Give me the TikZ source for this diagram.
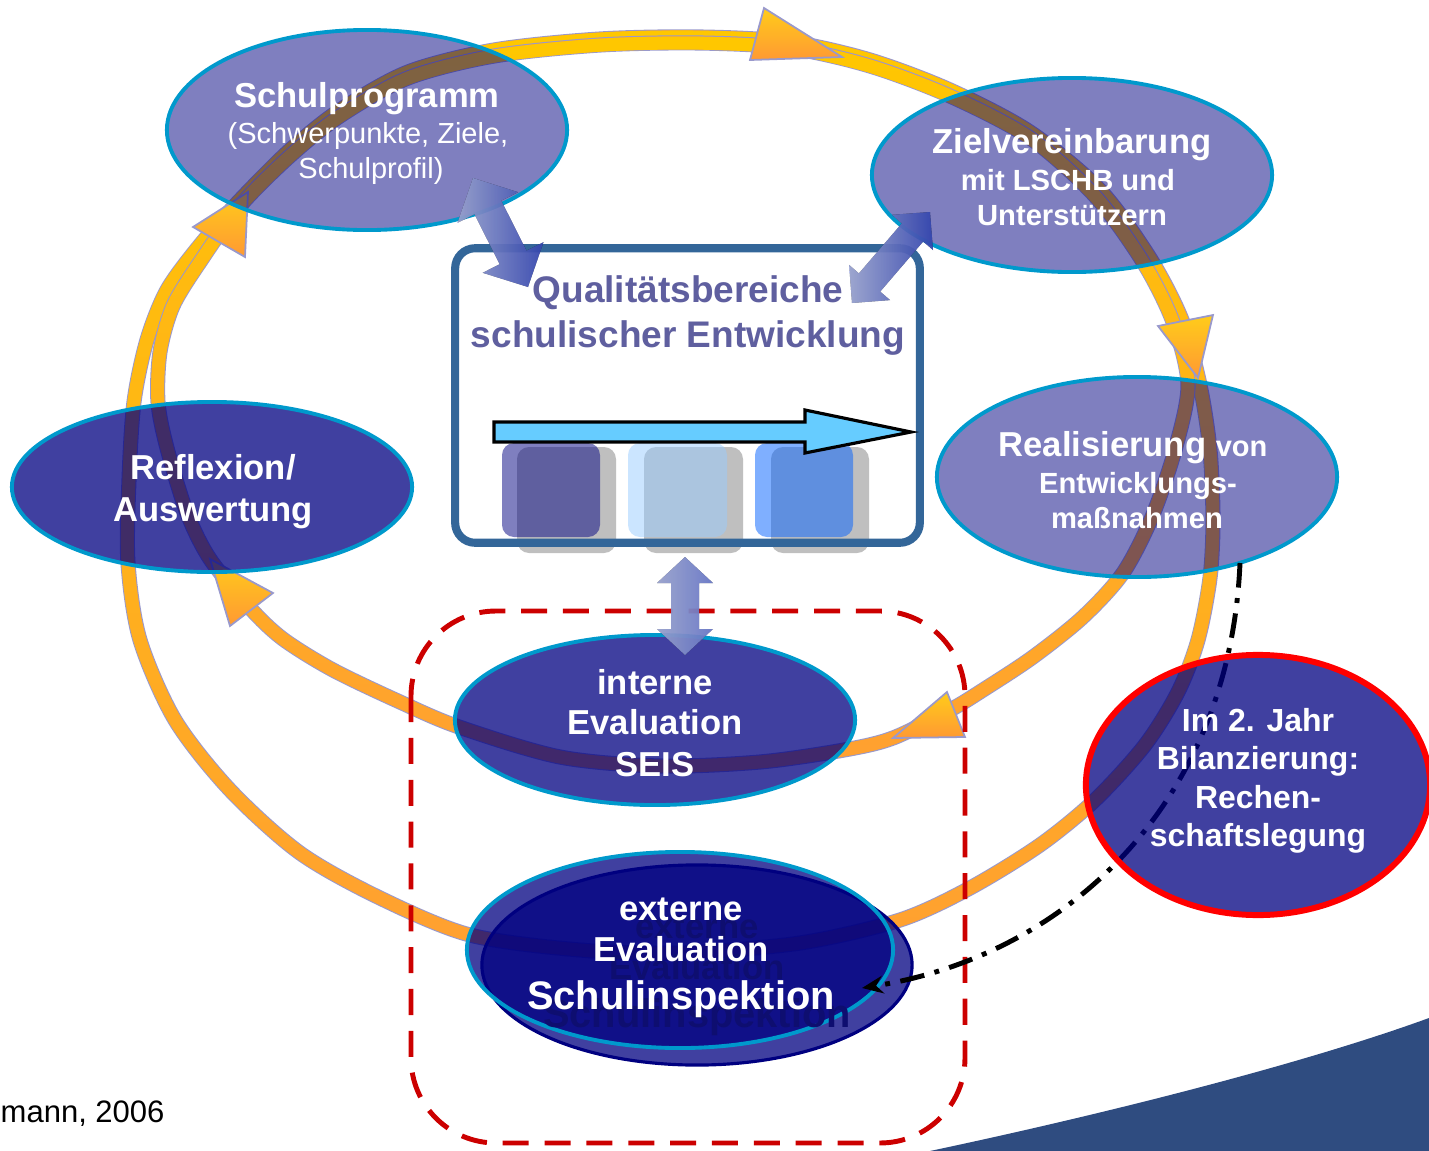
\documentclass[tikz,border=0pt]{standalone}
\usepackage{fontspec}
\setmainfont{Liberation Sans}
\usetikzlibrary{shapes.geometric,fadings,arrows.meta}

\definecolor{navyfill}{HTML}{000080}
\definecolor{rimcyan}{HTML}{0099CC}
\definecolor{bandorange}{HTML}{FFA032}
\definecolor{bandyellow}{HTML}{FFC800}
\definecolor{bandrim}{HTML}{9999CC}
\definecolor{tiptop}{HTML}{FFCC1A}
\definecolor{tipbottom}{HTML}{FF9933}
\definecolor{boxblue}{HTML}{336699}
\definecolor{titleviolet}{HTML}{5F5F9F}
\definecolor{ghostnavy}{HTML}{0E0E70}
\definecolor{swoosh}{HTML}{2F4C80}
\definecolor{dashred}{HTML}{CC0000}
\definecolor{barcyan}{HTML}{66CCFF}
\definecolor{shadowgray}{HTML}{BFBFBF}
\definecolor{tileviolet}{HTML}{000080}
\definecolor{tilesky}{HTML}{99CCFF}
\definecolor{tileblue}{HTML}{0060FF}
\definecolor{arrowlight}{HTML}{BCC8FF}
\definecolor{arrowdeep}{HTML}{3F55D8}
\definecolor{arrowmid}{HTML}{7F92F5}

\tikzfading[name=bandfade, top color=transparent!0, bottom color=transparent!100]

% the two cycles of the development loop
\def\outerloop{plot[smooth cycle] coordinates {(680,953) (580,950) (470,935) (380,898) (300,853) (230,790) (175,720) (140,640) (128,563) (129,480) (134,402) (147,340) (167,290) (200,245) (240,200) (290,150) (340,110) (408,72) (494,50) (600,39) (700,37) (790,42) (870,60) (950,90) (1030,132) (1100,190) (1150,258) (1182,320) (1200,385) (1210,450) (1213,520) (1210,578) (1198,640) (1178,692) (1145,745) (1095,800) (1040,845) (970,888) (900,920) (800,943)}}
\def\innerloop{plot[smooth cycle] coordinates {(660,766) (560,757) (459,727) (400,702) (333,670) (283,639) (250,608) (210,559) (187,513) (167,448) (158,402) (160,352) (173,306) (200,262) (240,206) (290,156) (340,116) (408,78) (494,56) (600,45) (700,43) (790,48) (870,66) (950,96) (1030,138) (1095,196) (1143,262) (1173,322) (1188,385) (1175,450) (1152,517) (1123,573) (1083,617) (1033,657) (983,690) (950,710) (893,738) (844,750) (760,762)}}

\begin{document}
\begin{tikzpicture}[x=0.01cm,y=-0.01cm,
  stage/.style={ellipse, inner sep=0pt, draw=rimcyan, line width=1.1pt, fill=navyfill},
  lightstage/.style={stage, fill opacity=0.5},
  darkstage/.style={stage, fill opacity=0.75},
  bandrimline/.style={draw=bandrim, line width=4.3pt},
  bandbody/.style={draw=bandorange, line width=3.7pt},
  bandglow/.style={draw=bandyellow, line width=3.7pt, path fading=bandfade},
  looptip/.style={draw=bandrim, line width=0.5pt, top color=tiptop, bottom color=tipbottom},
  blockfill/.style={left color=arrowlight, right color=arrowdeep, fill opacity=0.75},
  blockfillsoft/.style={left color=arrowlight, right color=arrowmid, fill opacity=0.75},
  tilebg/.style={fill=shadowgray, rounded corners=0.12cm},
  tile/.style={fill opacity=0.5, rounded corners=0.12cm},
  lbl/.style={text=white, anchor=base, inner sep=0pt},
  fbig/.style={font=\fontsize{9.84}{11}\selectfont\bfseries},
  fmid/.style={font=\fontsize{8.3}{10}\selectfont\bfseries},
  fsmall/.style={font=\fontsize{8.25}{10}\selectfont},
  fbil/.style={font=\fontsize{9.08}{11}\selectfont\bfseries},
  fhuge/.style={font=\fontsize{11.32}{13}\selectfont\bfseries},
  ftitle/.style={font=\fontsize{10.53}{12}\selectfont\bfseries, text=titleviolet, anchor=base, inner sep=0pt}
]
\useasboundingbox (0,0) rectangle (1429,1151);

% corner swoosh
\fill[swoosh] (930,1151) .. controls (1100,1115) and (1300,1065) .. (1429,1018) -- (1429,1151) -- cycle;

% outer cycle (via external evaluation)
\path[bandrimline] \outerloop;
\path[bandbody] \outerloop;
\path[bandglow] \outerloop;
% inner cycle (via internal evaluation)
\path[bandrimline] \innerloop;
\path[bandbody] \innerloop;
\path[bandglow] \innerloop;

% arrow tips on the cycles
\path[looptip] (193,227) -- (245,257) -- (248,192) -- cycle;
\path[looptip] (764,8) -- (750,60) -- (842,57) -- cycle;
\path[looptip] (1158,326) -- (1213,315) -- (1198,378) -- cycle;
\path[looptip] (947,692) -- (965,737) -- (893,738) -- cycle;
\path[looptip] (273,593) -- (230,626) -- (210,559) -- cycle;

% evaluation frame
\draw[dashred, line width=1.4pt, dash pattern=on 7.4pt off 4.5pt, rounded corners=0.85cm] (411,611) rectangle (965,1143);

% quality areas box
\node[fill=white, rounded corners=0.2cm, minimum width=4.63cm, minimum height=2.93cm, inner sep=0pt] (box) at (687.5,395.5) {};
\fill[tilebg] (517,447) rectangle (616,553);
\fill[tilebg] (644,447) rectangle (743,553);
\fill[tilebg] (771,447) rectangle (869,553);
\fill[tile, fill=tileviolet] (502,443) rectangle (600,537);
\fill[tile, fill=tilesky] (628,443) rectangle (727,537);
\fill[tile, fill=tileblue] (755,443) rectangle (853,537);
\draw[boxblue, line width=2.3pt, rounded corners=0.2cm] (box.south west) rectangle (box.north east);
\draw[black, line width=0.9pt, fill=barcyan] (494,422) -- (805,422) -- (805,410) -- (911,432) -- (805,453) -- (805,442) -- (494,442) -- cycle;
\node[ftitle] (qtitle1) at (688,302) {Qualitätsbereiche};
\node[ftitle] (qtitle2) at (688,347) {schulischer Entwicklung};

% stages
\node[lightstage, minimum width=4cm, minimum height=2cm] (schul) at (367,130) {};
\node[lightstage, minimum width=4cm, minimum height=1.94cm] (ziel) at (1072,175) {};
\node[lightstage, minimum width=4cm, minimum height=2cm] (real) at (1137,477) {};
\node[darkstage, minimum width=4cm, minimum height=1.7cm] (refl) at (212,487) {};
\node[darkstage, minimum width=4cm, minimum height=1.7cm] (seis) at (655,720) {};
\node[ellipse, inner sep=0pt, draw=navyfill, line width=0.9pt, fill=navyfill, fill opacity=0.75, minimum width=4.3cm, minimum height=2cm] (extback) at (697,965) {};
\node[darkstage, minimum width=4.26cm, minimum height=1.96cm] (ext) at (680,950) {};

% shadow lettering of the external evaluation
\node[fbig, text=ghostnavy, anchor=base, inner sep=0pt] (g1) at (697,938) {externe};
\node[fbig, text=ghostnavy, anchor=base, inner sep=0pt] (g2) at (697,979) {Evaluation};
\node[fhuge, text=ghostnavy, anchor=base, inner sep=0pt] (g3) at (697,1027) {Schulinspektion};

% accountability link
\coordinate (linkstart) at (1240,563);
\coordinate (linkend) at (862,988);
\draw[black, line width=1.4pt, dash pattern=on 7pt off 3pt on 1.4pt off 3pt, -{Stealth[length=6pt,width=5pt]}] (linkstart) .. controls (1230,800) and (1070,955) .. (linkend);

\node[ellipse, inner sep=0pt, draw=red, line width=1.7pt, fill=navyfill, fill opacity=0.75, minimum width=3.44cm, minimum height=2.6cm] (bilanz) at (1258,785) {};

% double block arrows between the stages and the box
\fill[blockfill] (473,178) -- (457.5,222.8) -- (474.5,214.2) -- (499.7,264.2) -- (482.7,272.8)
  -- (528,287) -- (543.5,242.2) -- (526.5,250.7) -- (501.3,200.7) -- (518.2,192.2) -- cycle;
\fill[blockfill] (852,303) -- (890.1,300.1) -- (880.2,291.6) -- (923.2,241.5) -- (933,250)
  -- (930,212) -- (892,214.8) -- (901.9,223.3) -- (858.9,273.4) -- (849.1,264.9) -- cycle;
\fill[blockfillsoft] (685,557) -- (657,583) -- (671,583) -- (671,629) -- (657,629)
  -- (685,655) -- (713,629) -- (699,629) -- (699,583) -- (713,583) -- cycle;

% labels
\node[lbl, fbig] (t-schul-1) at (367,107) {Schulprogramm};
\node[lbl, fsmall] (t-schul-2) at (368,143) {(Schwerpunkte, Ziele,};
\node[lbl, fsmall] (t-schul-3) at (371,178) {Schulprofil)};

\node[lbl, fbig] (t-ziel-1) at (1072,153) {Zielvereinbarung};
\node[lbl, fmid] (t-ziel-2) at (1068,190) {mit LSCHB und};
\node[lbl, fmid] (t-ziel-3) at (1072,225) {Unterstützern};

\node[lbl, fbig] (t-real-1) at (1133,456) {Realisierung {\fontsize{8.25}{10}\selectfont von}};
\node[lbl, fmid] (t-real-2) at (1138,493) {Entwicklungs-};
\node[lbl, fmid] (t-real-3) at (1137,528) {maßnahmen};

\node[lbl, fbig] (t-refl-1) at (213,479) {Reflexion/};
\node[lbl, fbig] (t-refl-2) at (213,521) {Auswertung};

\node[lbl, fbig] (t-seis-1) at (655,694) {interne};
\node[lbl, fbig] (t-seis-2) at (655,734) {Evaluation};
\node[lbl, fbig] (t-seis-3) at (655,776) {SEIS};

\node[lbl, fbig] (t-ext-1) at (681,920) {externe};
\node[lbl, fbig] (t-ext-2) at (681,961) {Evaluation};
\node[lbl, fhuge] (t-ext-3) at (681,1009) {Schulinspektion};

\node[lbl, fbil] (t-bil-1) at (1258,731) {Im 2. Jahr};
\node[lbl, fbil] (t-bil-2) at (1258,769) {Bilanzierung:};
\node[lbl, fbil] (t-bil-3) at (1258,808) {Rechen-};
\node[lbl, fbil] (t-bil-4) at (1258,846) {schaftslegung};

\node[anchor=base west, inner sep=0pt, font=\fontsize{8.82}{10}\selectfont] (credit) at (0,1122) {mann, 2006};
\end{tikzpicture}
\end{document}
